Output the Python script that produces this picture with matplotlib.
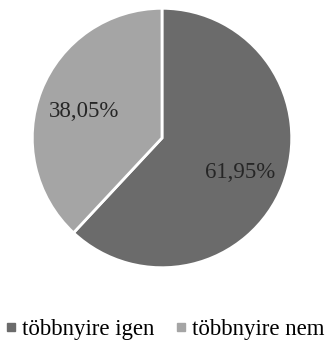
import matplotlib
matplotlib.use('Agg')
import matplotlib.pyplot as plt
import matplotlib.transforms as mtransforms
from matplotlib.lines import Line2D

categories = ['többnyire igen', 'többnyire nem']
values = [61.95, 38.05]
colors = ['#6b6b6b', '#a5a5a5']

plt.rcParams['font.family'] = ['Liberation Serif', 'DejaVu Serif']

fig = plt.figure(figsize=(3.26, 3.40), dpi=100)
# pie center ~ (162, 138) px, radius ~130 px
ax = fig.add_axes([(162 - 131) / 326, (340 - 138 - 131) / 340, 262 / 326, 262 / 340])
wedges, texts, autotexts = ax.pie(
    values, colors=colors, startangle=90, counterclock=False,
    autopct=lambda p: f'{p:.2f}'.replace('.', ',') + '%', pctdistance=0.65,
    wedgeprops=dict(edgecolor='white', linewidth=2), radius=1.0)
shift = mtransforms.offset_copy(ax.transData, fig=fig, x=0, y=-4, units='dots')
for t in autotexts:
    t.set_fontsize(16.5)
    t.set_color('#262626')
    t.set_transform(shift)
ax.set_xlim(-1.01, 1.01)
ax.set_ylim(-1.01, 1.01)
ax.set_aspect('equal')

handles = [Line2D([], [], marker='s', linestyle='none', markersize=5.8,
                  markerfacecolor=c, markeredgecolor=c) for c in colors]
fig.legend(handles, categories, loc='center', bbox_to_anchor=(165.5 / 326, 1 - 329 / 340),
           ncol=2, frameon=False, fontsize=16.5, handlelength=0.4,
           handletextpad=0.25, columnspacing=1.0, borderpad=0, borderaxespad=0)

fig.savefig('out.png', dpi=100)
